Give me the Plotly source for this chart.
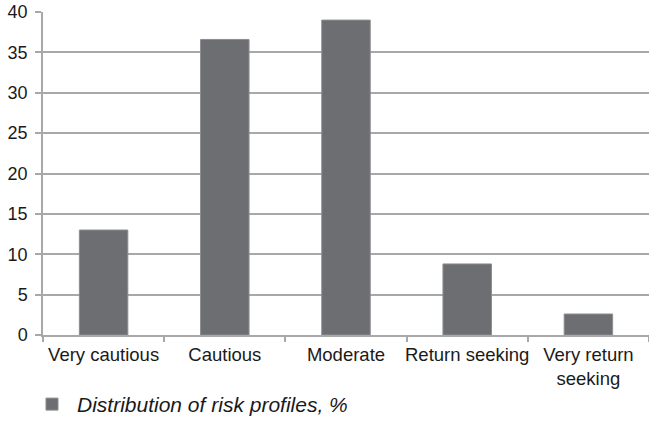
import plotly.graph_objects as go

# Risk profile categories and their share of respondents (%)
categories = ["Very cautious", "Cautious", "Moderate", "Return seeking", "Very return<br>seeking"]
shares = [13.0, 36.6, 39.0, 8.8, 2.6]
y_ticks = [0, 5, 10, 15, 20, 25, 30, 35, 40]
series_name = "Distribution of risk profiles, %"

FONT = "Liberation Sans, Arial, sans-serif"
TEXT = "#1a1a1a"
BAR = "#6d6e71"
GRID = "#a8a8a8"

fig = go.Figure()
fig.add_trace(go.Bar(
    x=categories,
    y=shares,
    name=series_name,
    marker=dict(color=BAR, line=dict(color="#8c8d90", width=1)),
    showlegend=True,
))

fig.update_layout(
    width=649,
    height=421,
    margin=dict(l=43, r=0, t=12, b=86),
    paper_bgcolor="white",
    plot_bgcolor="white",
    bargap=0.6,
    font=dict(family=FONT, size=18, color=TEXT),
    showlegend=True,
    legend=dict(
        orientation="h",
        xref="container", yref="container",
        x=0.0416, xanchor="left",
        y=0.088, yanchor="top",
        font=dict(family=FONT, size=21, color=TEXT, style="italic"),
        itemwidth=40,
    ),
    xaxis=dict(
        type="category",
        automargin=False,
        showline=True,
        linecolor=GRID,
        linewidth=1.5,
        ticks="outside",
        tickson="boundaries",
        ticklen=5,
        tickcolor=GRID,
        tickwidth=1.5,
        showgrid=False,
        tickangle=0,
        ticklabelstandoff=2,
        tickfont=dict(family=FONT, size=18.5, color=TEXT),
    ),
    yaxis=dict(
        range=[0, 40],
        tickvals=y_ticks,
        automargin=False,
        showline=True,
        linecolor=GRID,
        linewidth=1.5,
        ticks="outside",
        ticklen=6,
        tickcolor=GRID,
        tickwidth=1.5,
        showgrid=True,
        gridcolor=GRID,
        gridwidth=1.5,
        zeroline=False,
        ticklabelstandoff=4,
        tickfont=dict(family=FONT, size=18, color=TEXT),
    ),
)

fig.write_html("out.html")
